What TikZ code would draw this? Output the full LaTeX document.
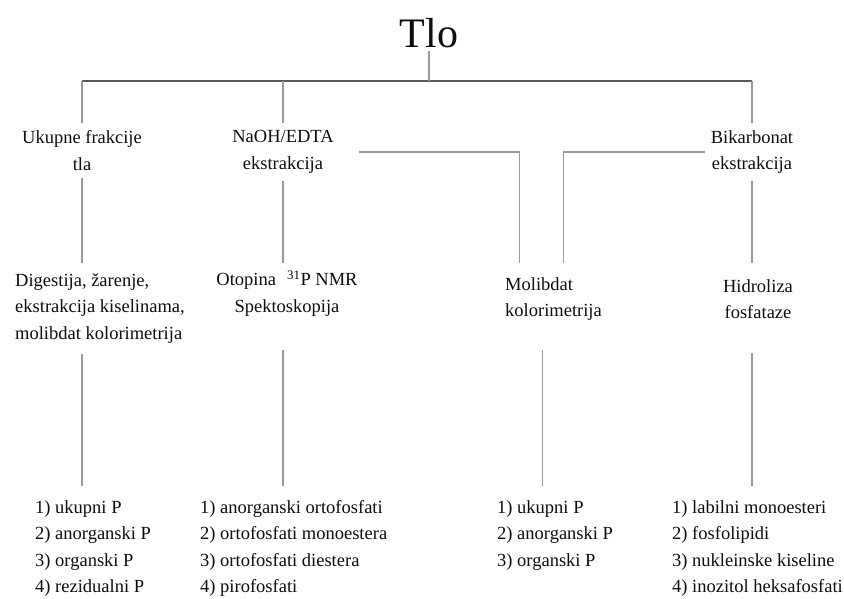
\documentclass[tikz,border=0pt]{standalone}
\usepackage{fontspec}
\setmainfont{Liberation Serif}
\usetikzlibrary{calc}
\tikzset{
    x=1pt, y=-1pt,
    every node/.append style={font=\fontsize{18.5}{26.5}\selectfont, text=black!95},
    lvl/.style={align=center, inner xsep=6pt, inner ysep=7.4pt},
    lst/.style={align=left, anchor=north west, inner xsep=6pt, inner ysep=14pt},
    link/.style={draw=black!40, line width=1.5pt},
    bar/.style={draw=black!65, line width=2.6pt}
}

\begin{document}
\begin{tikzpicture}
\useasboundingbox (0,0) rectangle (844,598);
\node[font=\fontsize{42}{46}\selectfont, anchor=base, inner ysep=3pt] (Tlo) at (429,47) {Tlo};
\coordinate (bar) at (429,81);

\node[lvl, anchor=north] (UF) at (82,123) {Ukupne frakcije\\tla};
\node[lvl, anchor=north] (NE) at (283,123) {NaOH/EDTA\\ekstrakcija};
\node[lvl, anchor=north] (BE) at (752,123) {Bikarbonat\\ekstrakcija};

\node[lvl, align=left, anchor=north west, inner ysep=10.4pt] (DG) at (9,263) {Digestija, žarenje,\\ekstrakcija kiselinama,\\molibdat kolorimetrija};
\node[lvl, anchor=north, inner ysep=7.7pt] (OT) at (287,263) {Otopina\hspace{0.6em}\textsuperscript{31}P NMR\\Spektoskopija};
\node[lvl, align=left, anchor=north west, inner ysep=14.4pt] (MK) at (499,263) {Molibdat\\kolorimetrija};
\node[lvl, anchor=north, inner ysep=16.4pt] (HF) at (758,263) {Hidroliza\\fosfataze};

\node[lst] (L1) at (29,486) {1) ukupni P\\2) anorganski P\\3) organski P\\4) rezidualni P};
\node[lst] (L2) at (194,486) {1) anorganski ortofosfati\\2) ortofosfati monoestera\\3) ortofosfati diestera\\4) pirofosfati};
\node[lst] (L3) at (491,486) {1) ukupni P\\2) anorganski P\\3) organski P};
\node[lst] (L4) at (666,486) {1) labilni monoesteri\\2) fosfolipidi\\3) nukleinske kiseline\\4) inozitol heksafosfati};

\draw[bar] (UF.north |- bar) -- (BE.north |- bar);
\draw[link] (Tlo.south) -- (Tlo.south |- bar);
\foreach \n in {UF,NE,BE}
    \draw[link] (\n.north) -- (\n.north |- bar);

\draw[link] (UF.south) -- (UF.south |- DG.north);
\draw[link] (NE.south) -- (NE.south |- OT.north);
\draw[link] (BE.south) -- (BE.south |- HF.north);
\draw[link, shorten <=19pt] (NE.east) -| ([xshift=-34pt]MK.north);
\draw[link] (BE.west) -| ([xshift=10pt]MK.north);

\draw[link] (UF.south |- DG.south) -- (UF.south |- L1.north);
\draw[link, shorten <=26pt] (NE.south |- OT.south) -- (NE.south |- L2.north);
\draw[link, shorten <=15pt] ([xshift=-11pt]MK.south) -- ([xshift=-11pt]MK.south |- L3.north);
\draw[link, shorten <=17pt] (BE.south |- HF.south) -- (BE.south |- L4.north);
\end{tikzpicture}
\end{document}
